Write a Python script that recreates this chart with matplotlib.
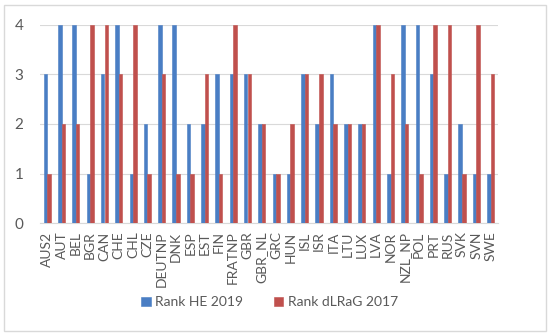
import numpy as np
import matplotlib
matplotlib.use('Agg')
import matplotlib.pyplot as plt
from matplotlib.patches import Rectangle

plt.rcParams['font.family'] = ['Lato', 'DejaVu Sans']

countries = ['AUS2', 'AUT', 'BEL', 'BGR', 'CAN', 'CHE', 'CHL', 'CZE', 'DEUTNP', 'DNK',
             'ESP', 'EST', 'FIN', 'FRATNP', 'GBR', 'GBR_NL', 'GRC', 'HUN', 'ISL', 'ISR',
             'ITA', 'LTU', 'LUX', 'LVA', 'NOR', 'NZL_NP', 'POL', 'PRT', 'RUS', 'SVK',
             'SVN', 'SWE']
rank_he = [3, 4, 4, 1, 3, 4, 1, 2, 4, 4, 2, 2, 3, 3, 3, 2, 1, 1, 3, 2,
           3, 2, 2, 4, 1, 4, 4, 3, 1, 2, 1, 1]
rank_dlrag = [1, 2, 2, 4, 4, 3, 4, 1, 3, 1, 1, 3, 1, 4, 3, 2, 1, 2, 3, 3,
              2, 2, 2, 4, 3, 2, 1, 4, 4, 1, 4, 3]

blue = '#4A7EC4'
red = '#C0504D'

fig = plt.figure(figsize=(5.5, 3.36), dpi=100)
ax = fig.add_axes([0.073, 0.336, 0.832, 0.59])

x = np.arange(len(countries))
w = 0.25
# thin edge in the fill colour keeps the pair of bars touching
ax.bar(x - w / 2, rank_he, width=w, color=blue, edgecolor=blue, linewidth=0.4,
       label='Rank HE 2019', zorder=3)
ax.bar(x + w / 2, rank_dlrag, width=w, color=red, edgecolor=red, linewidth=0.4,
       label='Rank dLRaG 2017', zorder=3)

ax.set_xlim(-0.5, len(countries) - 0.5)
ax.set_ylim(0, 4)
ax.set_yticks([0, 1, 2, 3, 4])
ax.yaxis.grid(True, color='#D9D9D9', linewidth=0.8, zorder=0)
ax.set_xticks(x)
ax.set_xticklabels(countries, rotation=90, fontsize=10, color='#595959')
ax.tick_params(axis='y', labelsize=11, colors='#595959', length=0, pad=12)
ax.tick_params(axis='x', length=0, pad=6)
for s in ['top', 'right', 'left']:
    ax.spines[s].set_visible(False)
ax.spines['bottom'].set_color('#D9D9D9')

fig.legend(loc='center', bbox_to_anchor=(0.49, 0.1), ncol=2, frameon=False,
           fontsize=10, handlelength=0.7, handleheight=0.7, columnspacing=2.2,
           handletextpad=0.3, labelcolor='#595959')

fig.patches.append(Rectangle((0.008, 0.015), 0.984, 0.97, transform=fig.transFigure,
                             fill=False, edgecolor='#D9D9D9', linewidth=1))

fig.savefig('out.png', dpi=100)
